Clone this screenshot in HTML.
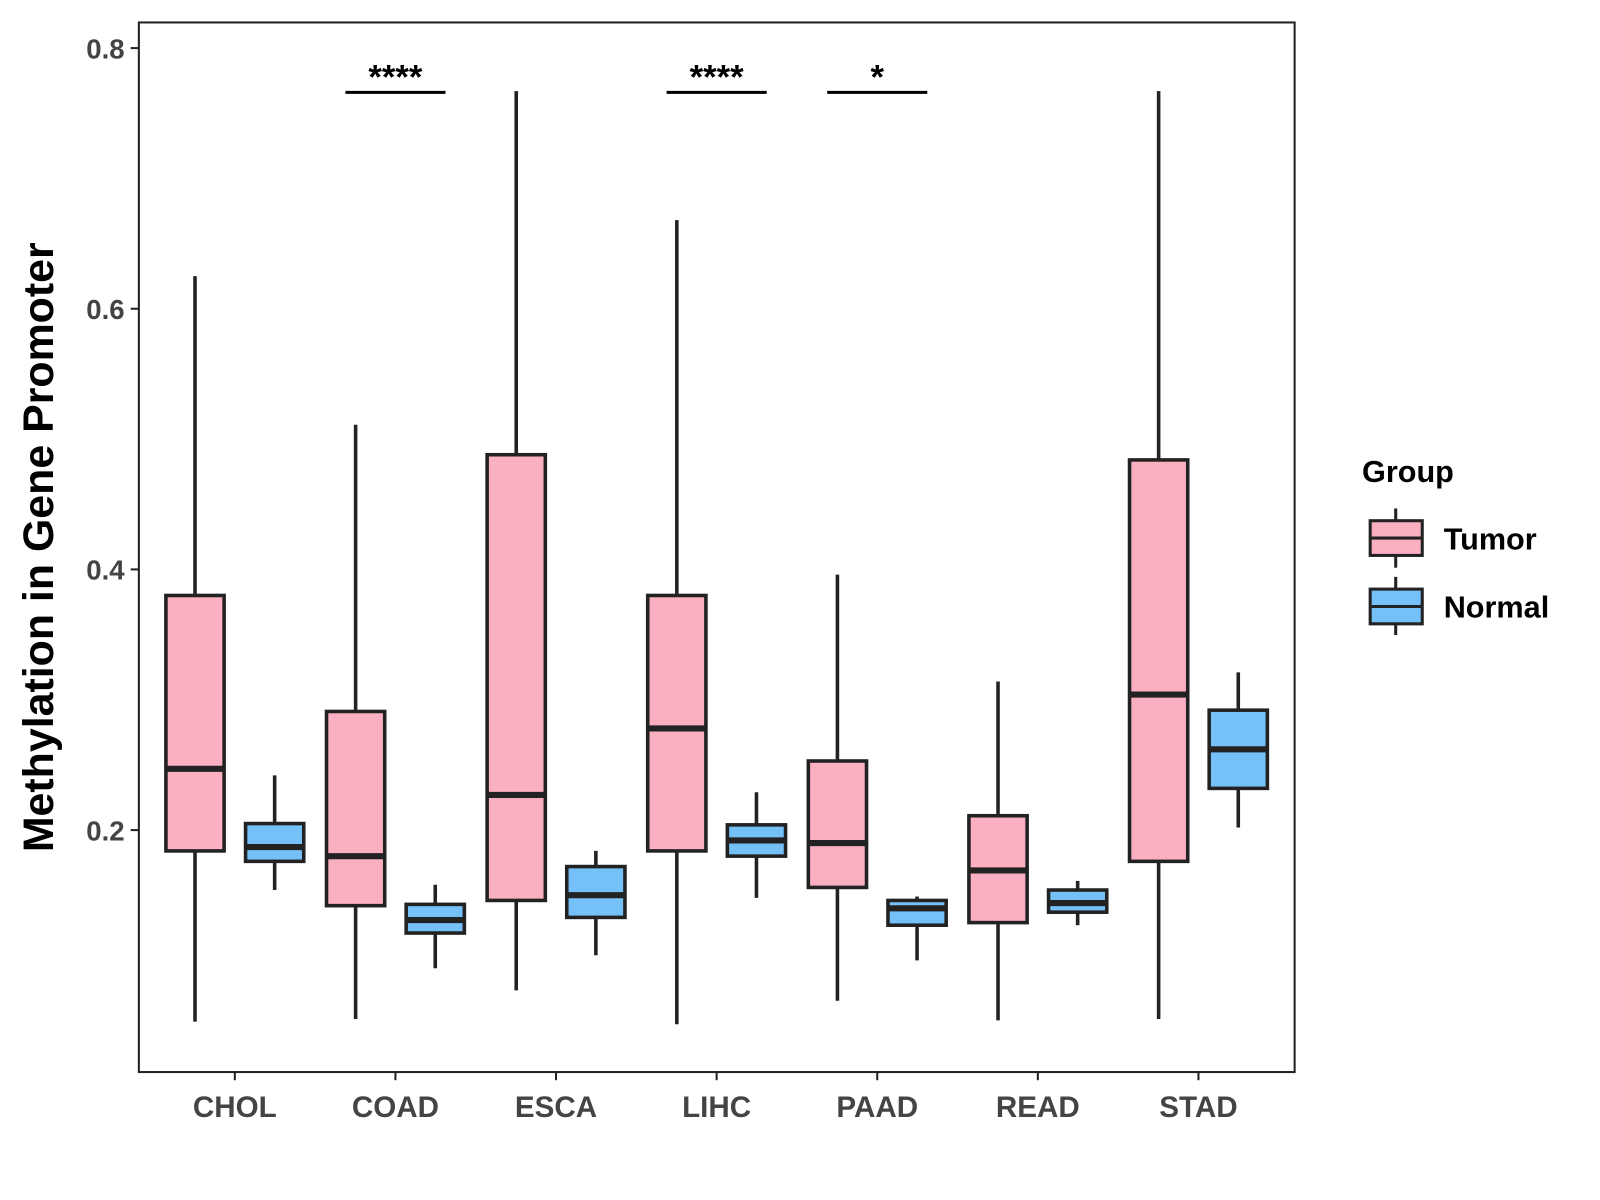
<!DOCTYPE html>
<html><head><meta charset="utf-8"><style>
body{margin:0;background:#fff;}
svg{display:block;font-family:"Liberation Sans",sans-serif;}
</style></head><body>
<svg id="chart" width="1600" height="1200" viewBox="0 0 1600 1200">
<rect x="0" y="0" width="1600" height="1200" fill="#fff"/>
<g transform="scale(1.021)">
<rect x="136" y="22" width="1132" height="1028" fill="none" stroke="#222" stroke-width="2"/>
<g id="yaxis"></g>
<g id="xaxis"></g>
<g id="boxes"></g>
<g id="sig"></g>
<text x="52" y="536" transform="rotate(-90 52 536)" text-anchor="middle" font-size="42" font-weight="bold" fill="#000">Methylation in Gene Promoter</text>
<g>
<text x="1334" y="472" font-size="30" font-weight="bold" fill="#000">Group</text>
<g>
<line x1="1367" y1="498" x2="1367" y2="556" stroke="#222" stroke-width="3"/>
<rect x="1342" y="510" width="51" height="34" fill="#FBB0C1" stroke="#222" stroke-width="3"/>
<line x1="1342" y1="527" x2="1393" y2="527" stroke="#222" stroke-width="3"/>
<text x="1414" y="538" font-size="30" font-weight="bold" fill="#000">Tumor</text></g>
<g>
<line x1="1367" y1="565" x2="1367" y2="622" stroke="#222" stroke-width="3"/>
<rect x="1342" y="577" width="51" height="34" fill="#75C0F7" stroke="#222" stroke-width="3"/>
<line x1="1342" y1="594" x2="1393" y2="594" stroke="#222" stroke-width="3"/>
<text x="1414" y="605" font-size="30" font-weight="bold" fill="#000">Normal</text></g>
</g>
</g>
</svg>
<script>
const categories=["CHOL","COAD","ESCA","LIHC","PAAD","READ","STAD"];
const tumorLow=[0.053,0.055,0.077,0.051,0.069,0.054,0.055];
const tumorQ1=[0.184,0.142,0.146,0.184,0.156,0.129,0.176];
const tumorMed=[0.247,0.180,0.227,0.278,0.190,0.169,0.304];
const tumorQ3=[0.380,0.291,0.488,0.380,0.253,0.211,0.484];
const tumorHigh=[0.625,0.511,0.767,0.668,0.396,0.314,0.767];
const normalLow=[0.154,0.094,0.104,0.148,0.100,0.127,0.202];
const normalQ1=[0.176,0.121,0.133,0.180,0.127,0.137,0.232];
const normalMed=[0.187,0.131,0.150,0.192,0.140,0.144,0.262];
const normalQ3=[0.205,0.143,0.172,0.204,0.146,0.154,0.292];
const normalHigh=[0.242,0.158,0.184,0.229,0.149,0.161,0.321];
const yTicks=[0.2,0.4,0.6,0.8];
const sigCats=["COAD","LIHC","PAAD"];
const sigLabels=["****","****","*"];
const sigLevel=0.766;

const NS="http://www.w3.org/2000/svg";
const y=v=>813-(v-0.2)*1276.5;
const x=i=>230+i*157.3;
function mk(tag,attrs,parent){const e=document.createElementNS(NS,tag);for(const k in attrs)e.setAttribute(k,attrs[k]);parent.appendChild(e);return e;}
const ya=document.getElementById('yaxis'),xa=document.getElementById('xaxis'),bx=document.getElementById('boxes'),sg=document.getElementById('sig');
yTicks.forEach(t=>{
 mk('line',{x1:128,x2:136,y1:y(t),y2:y(t),stroke:'#222','stroke-width':2},ya);
 const tx=mk('text',{x:122,y:y(t)+10,'text-anchor':'end','font-size':27,'font-weight':'bold',fill:'#444'},ya);
 
 
 tx.textContent=t.toFixed(1);
});
categories.forEach((c,i)=>{
 mk('line',{x1:x(i),x2:x(i),y1:1050,y2:1058,stroke:'#222','stroke-width':2},xa);
 const tx=mk('text',{x:x(i),y:1094,'text-anchor':'middle','font-size':29,'font-weight':'bold',fill:'#444'},xa);
 
 
 tx.textContent=c;
});
function box(cx,lo,q1,md,q3,hi,fill,name){
 const g=mk('g',{},bx);
 
 
 mk('line',{x1:cx,x2:cx,y1:y(hi),y2:y(lo),stroke:'#222','stroke-width':3.5},g);
 mk('rect',{x:cx-28.5,y:y(q3),width:57,height:y(q1)-y(q3),fill:fill,stroke:'#222','stroke-width':3.5},g);
 mk('line',{x1:cx-28.5,x2:cx+28.5,y1:y(md),y2:y(md),stroke:'#222','stroke-width':6},g);
}
categories.forEach((c,i)=>{
 box(x(i)-39,tumorLow[i],tumorQ1[i],tumorMed[i],tumorQ3[i],tumorHigh[i],'#FBB0C1','box-tumor-'+c.toLowerCase());
 box(x(i)+39,normalLow[i],normalQ1[i],normalMed[i],normalQ3[i],normalHigh[i],'#75C0F7','box-normal-'+c.toLowerCase());
});
sigCats.forEach((c,k)=>{
 const i=categories.indexOf(c);
 const l=mk('line',{x1:x(i)-49,x2:x(i)+49,y1:y(sigLevel),y2:y(sigLevel),stroke:'#000','stroke-width':3},sg);
 
 
 const t=mk('text',{x:x(i),y:y(sigLevel)-4,'text-anchor':'middle','font-size':34,'font-weight':'bold',fill:'#000'},sg);
 
 
 t.textContent=sigLabels[k];
});
</script>
</body></html>
